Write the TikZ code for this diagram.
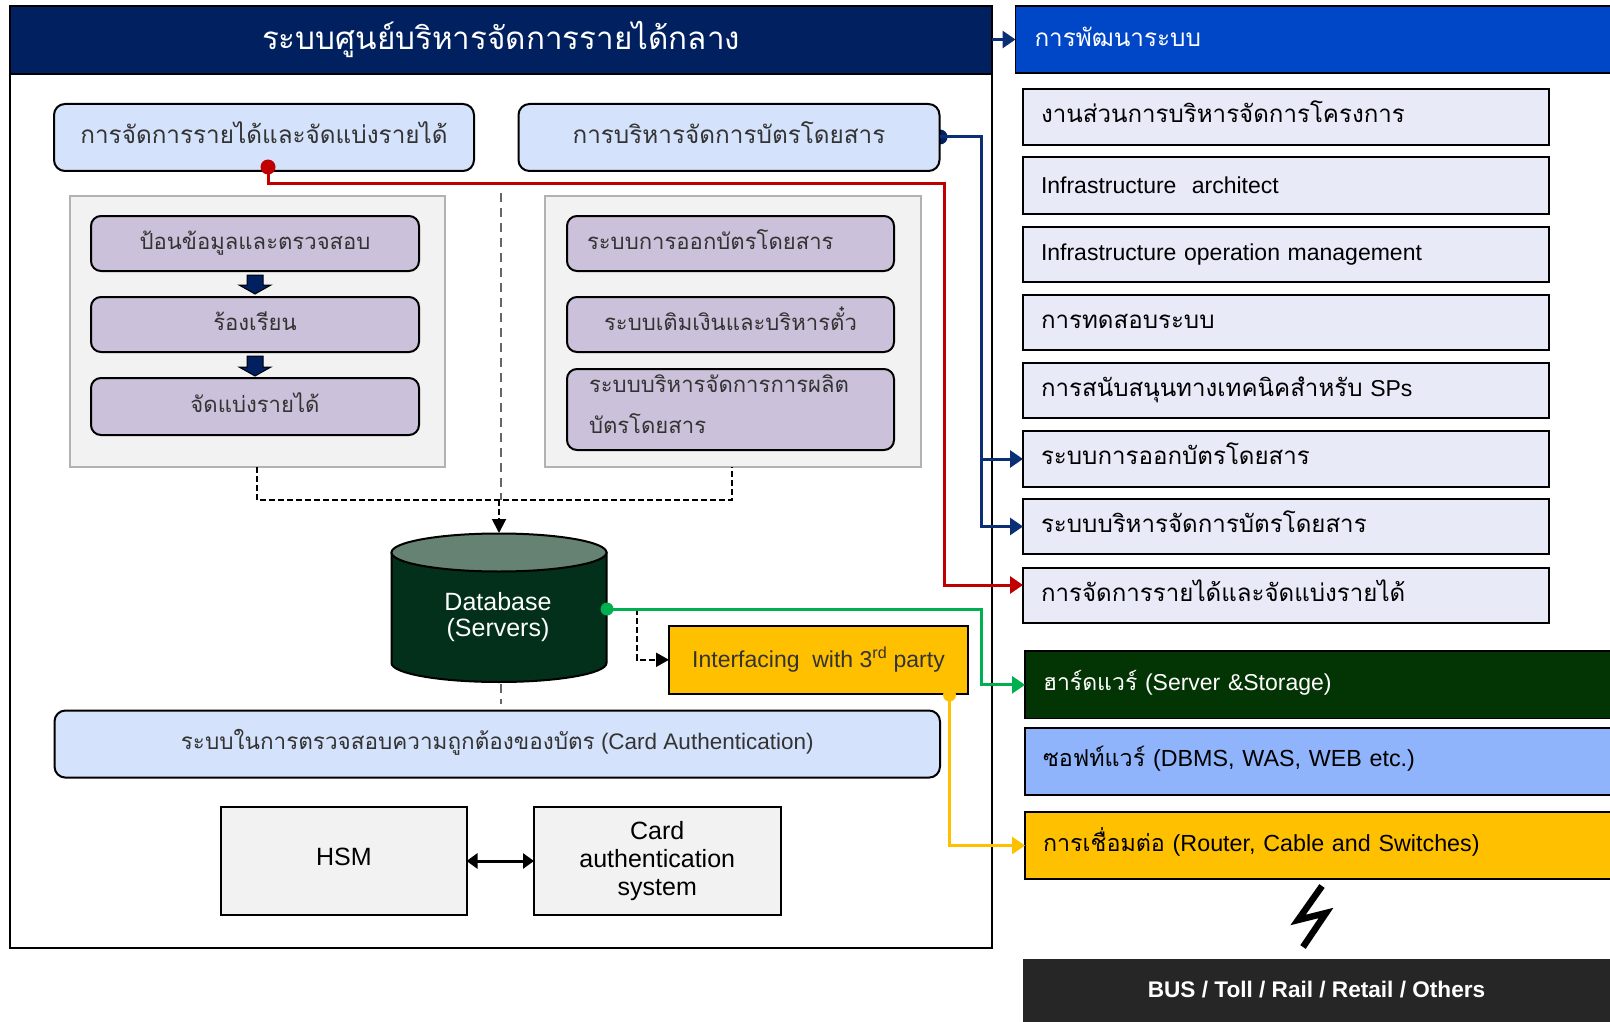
\documentclass[tikz,border=0pt]{standalone}
\usepackage{fontspec}
\setmainfont{Liberation Sans}
\newfontfamily\thf[Script=Thai]{Loma}
\usetikzlibrary{arrows.meta}
\newcommand\thtx[1]{{\thf\strut\smash{#1}}}
\newcommand\thrw[1]{{\fontsize{24.1}{28}\selectfont\thf\strut\smash{#1}}}
\newcommand\fs[2]{\fontsize{#1}{#2}\selectfont}
\definecolor{titlenavy}{HTML}{002060}
\definecolor{headblue}{HTML}{0047C8}
\definecolor{lightblue}{HTML}{D4E2FC}
\definecolor{panelgrey}{HTML}{F2F2F2}
\definecolor{purplebox}{HTML}{CCC1DA}
\definecolor{lavender}{HTML}{E8EAF8}
\definecolor{dbdark}{HTML}{02301A}
\definecolor{dbtop}{HTML}{668272}
\definecolor{gold}{HTML}{FFC000}
\definecolor{hwgreen}{HTML}{033403}
\definecolor{swblue}{HTML}{8FB4FB}
\definecolor{darkbar}{HTML}{262626}
\definecolor{linkred}{HTML}{C00000}
\definecolor{linkgreen}{HTML}{00B050}
\definecolor{linknavy}{HTML}{0B2F74}
\definecolor{textgrey}{HTML}{333333}
\tikzset{
  boxbase/.style={inner sep=0pt,outer sep=0pt,align=center},
  framebox/.style={boxbase,draw=black,line width=2pt},
  titlebar/.style={boxbase,fill=titlenavy,draw=black,line width=2pt,text=white,font=\fs{31.4}{36}},
  headbar/.style={boxbase,fill=headblue,draw=black,line width=1.5pt,text=white,font=\fs{24.3}{28}},
  topbox/.style={boxbase,fill=lightblue,draw=black,line width=2pt,rounded corners=11pt,text=textgrey,font=\fs{24.3}{30}},
  authbox/.style={topbox,font=\fs{22.5}{26}},
  panel/.style={boxbase,fill=panelgrey,draw=black!30,line width=2pt},
  purple/.style={boxbase,fill=purplebox,draw=black,line width=2pt,rounded corners=10pt,text=textgrey,font=\fs{22.1}{28}},
  purpletwo/.style={purple,font=\fs{22.1}{41}},
  rowbox/.style={boxbase,fill=lavender,draw=black,line width=2pt,text=black,font=\fs{23}{28}},
  plainbox/.style={boxbase,fill=panelgrey,draw=black,line width=2pt,text=black,font=\fs{25}{28}},
  goldbox/.style={boxbase,fill=gold,draw=black,line width=2pt,text=black,font=\fs{23}{26}},
  netbar/.style={goldbox,font=\fs{23.3}{28}},
  hwbar/.style={boxbase,fill=hwgreen,draw=black,line width=1.5pt,text=white,font=\fs{23}{28}},
  swbar/.style={boxbase,fill=swblue,draw=black,line width=2pt,text=black,font=\fs{23.3}{28}},
  blackbar/.style={boxbase,fill=darkbar,draw=none,text=white,font=\bfseries\fs{22.6}{26}},
  dotm/.style={circle,inner sep=0pt,minimum size=#1},
  link/.style={line width=3pt},
  tip/.style={-{Triangle[length=13pt,width=17pt]}},
}
\newcommand\bx[7]{%
  \pgfmathsetmacro\cx{(#2+#4)/2}\pgfmathsetmacro\cy{(#3+#5)/2}%
  \pgfmathsetmacro\bw{#4-#2}\pgfmathsetmacro\bh{#5-#3}%
  \node[#6,minimum width=\bw pt,minimum height=\bh pt] (#1) at (\cx,\cy) {#7};}
\newcommand\lbx[8]{%
  \pgfmathsetmacro\cx{(#2+#4)/2}\pgfmathsetmacro\cy{(#3+#5)/2}%
  \pgfmathsetmacro\bw{#4-#2}\pgfmathsetmacro\bh{#5-#3}\pgfmathsetmacro\tw{#4-#2-2*#8}%
  \node[#6,minimum height=\bh pt,text width=\tw pt,inner xsep=#8 pt,align=left] (#1) at (\cx,\cy) {#7};}
\newcommand\blockarrow[3]{%
  \fill[titlenavy,draw=black,line width=1pt] (#1-8,#2) -- (#1+8,#2) -- (#1+8,#3-9) -- (#1+16,#3-9) -- (#1,#3) -- (#1-16,#3-9) -- (#1-8,#3-9) -- cycle;}
\begin{document}
\begin{tikzpicture}[x=1pt,y=-1pt]
\useasboundingbox (0,0) rectangle (1610,1022);
\fill[white] (0,0) rectangle (1610,1022);
% main frame
\bx{frame}{10}{6}{992}{948}{framebox}{}
\bx{title}{10}{6}{992}{74}{titlebar}{\rule{0pt}{29.5pt}\thtx{ระบบศูนย์บริหารจัดการรายได้กลาง}}
% dashed centre line
\coordinate (midtop) at (501,193);
\coordinate (midbus) at (501,500);
\coordinate (midlow) at (501,704);
\draw[black!60,line width=1.5pt,dash pattern=on 9pt off 6pt] (midtop) -- (midbus);
% panels
\bx{panelL}{69.5}{196}{445}{467}{panel}{}
\bx{panelR}{545}{196}{921}{467}{panel}{}
% top boxes
\node[dotm=15pt,fill=titlenavy] (navydot) at (940,137) {};
\bx{topL}{54}{104}{474}{171}{topbox}{\thtx{การจัดการรายได้และจัดแบ่งรายได้}}
\bx{topR}{518.5}{104}{939.5}{171}{topbox}{\thtx{การบริหารจัดการบัตรโดยสาร}}
% purple left
\bx{pa}{91}{216}{419}{271}{purple}{\thtx{ป้อนข้อมูลและตรวจสอบ}}
\bx{pb}{91}{297}{419}{352}{purple}{\thtx{ร้องเรียน}}
\bx{pc}{91}{378}{419}{435}{purple}{\thtx{จัดแบ่งรายได้}}
\blockarrow{255}{275}{294}
\blockarrow{255}{356}{376}
% purple right
\lbx{pd}{567}{216}{894}{271}{purple}{\thtx{ระบบการออกบัตรโดยสาร}}{20}
\bx{pe}{567}{297}{894}{352}{purple}{\thtx{ระบบเติมเงินและบริหารตั๋ว}}
\lbx{pf}{567}{369}{894}{450}{purpletwo}{{\thf\rule{0pt}{20pt}\smash{ระบบบริหารจัดการการผลิต}}\\{\thf\rule[-14pt]{0pt}{1pt}\smash{บัตรโดยสาร}}}{22}
% header and rows
\lbx{head}{1015.5}{6}{1625}{73}{headbar}{\rule{0pt}{22pt}\thtx{การพัฒนาระบบ}}{19}
\lbx{r1}{1023}{89}{1548.7}{145}{rowbox}{\thrw{งานส่วนการบริหารจัดการโครงการ}}{18}
\lbx{r2}{1023}{157}{1548.7}{214}{rowbox}{Infrastructure\ \ architect}{18}
\lbx{r3}{1023}{227}{1548.7}{282}{rowbox}{Infrastructure operation management}{18}
\lbx{r4}{1023}{295}{1548.7}{350}{rowbox}{\thrw{การทดสอบระบบ}}{18}
\lbx{r5}{1023}{363}{1548.7}{418}{rowbox}{\thrw{การสนับสนุนทางเทคนิคสำหรับ} SPs}{18}
\lbx{r6}{1023}{431}{1548.7}{487}{rowbox}{\thrw{ระบบการออกบัตรโดยสาร}}{18}
\lbx{r7}{1023}{499}{1548.7}{554}{rowbox}{\thrw{ระบบบริหารจัดการบัตรโดยสาร}}{18}
\lbx{r8}{1023}{568}{1548.7}{623}{rowbox}{\thrw{การจัดการรายได้และจัดแบ่งรายได้}}{18}
% lower bars
\lbx{hw}{1025}{651}{1625}{718.7}{hwbar}{\thtx{ฮาร์ดแวร์} (Server \&Storage)}{18}
\lbx{sw}{1025}{727.7}{1625}{794.7}{swbar}{\thtx{ซอฟท์แวร์} (DBMS, WAS, WEB etc.)}{18}
\lbx{net}{1025}{812}{1625}{879}{netbar}{\thtx{การเชื่อมต่อ} (Router, Cable and Switches)}{18}
\bx{bus}{1023}{958.7}{1610}{1030}{blackbar}{\raisebox{10pt}{BUS / Toll / Rail / Retail / Others}}
% database
\fill[dbdark,draw=black,line width=2pt] (391.5,552.5) -- (391.5,663) arc[start angle=180,end angle=360,x radius=107.5pt,y radius=19pt] -- (606.5,552.5) -- cycle;
\fill[dbtop,draw=black,line width=2pt] (499,552.5) ellipse[x radius=107.5pt,y radius=19pt];
\node[boxbase,text=white,font=\fs{25}{26}] (db) at (498,617) {Database\\(Servers)};
\coordinate (dbtopc) at (499,533);
\draw[black!60,line width=1.5pt,dash pattern=on 9pt off 6pt] (501,684) -- (midlow);
% authentication
\bx{auth}{54.5}{710.5}{940}{777.6}{authbox}{\thtx{ระบบในการตรวจสอบความถูกต้องของบัตร} (Card Authentication)}
\bx{hsm}{221.4}{807}{466.5}{915}{plainbox}{\raisebox{8pt}{HSM}}
\bx{card}{534}{807}{780.5}{915}{plainbox}{Card\\authentication\\system}
\draw[black,line width=3pt,{Triangle[length=11pt,width=15pt]}-{Triangle[length=11pt,width=15pt]}] (hsm.east) -- (card.west);
% interface box
\bx{iface}{669}{626}{968}{693.6}{goldbox}{\color{black!80}Interfacing\ \ with 3\textsuperscript{rd} party}
% dashed black connectors
\coordinate (dashL) at (257,467);
\coordinate (dashR) at (732,467);
\coordinate (busL) at (257,500);
\coordinate (busR) at (732,500);
\draw[black,line width=2pt,dash pattern=on 6pt off 3pt] (dashL) -- (busL) -- (busR) -- (dashR);
\draw[black,line width=2pt,dash pattern=on 6pt off 3pt,-{Triangle[length=14pt,width=14pt]}] (499,500) -- (dbtopc);
\coordinate (dbdash) at (637,609);
\draw[black,line width=2pt,dash pattern=on 6pt off 3pt,-{Triangle[length=13pt,width=14pt]}] (dbdash) |- (iface.west);
% colored connectors
\coordinate (navyx) at (981.5,137);
\draw[linknavy,link,tip] (title.east |- head.west) -- (head.west);
\draw[linknavy,link,tip] (navydot.center) -- (navyx) |- (r6.west);
\draw[linknavy,link,tip] (navyx) |- (r7.west);
\node[dotm=13pt,fill=linkred,minimum height=15pt] (reddot) at (268,167) {};
\coordinate (redA) at (268,184);
\coordinate (redB) at (944,184);
\coordinate (redC) at (944,585);
\draw[linkred,link,tip] (reddot.center) -- (redA) -- (redB) -- (redC) -- (r8.west |- redC);
\node[dotm=13pt,fill=linkgreen] (greendot) at (607,609) {};
\coordinate (greenx) at (981.5,609);
\draw[linkgreen,link,tip] (greendot.center) -- (greenx) |- (hw.west);
\node[dotm=13pt,fill=gold] (golddot) at (949.5,695) {};
\draw[gold,link,tip] (golddot.center) |- (net.west);
% lightning
\draw[black,line width=6.5pt,miter limit=3] (1322,886) -- (1298,920) -- (1326,913) -- (1303,947);
\end{tikzpicture}
\end{document}
